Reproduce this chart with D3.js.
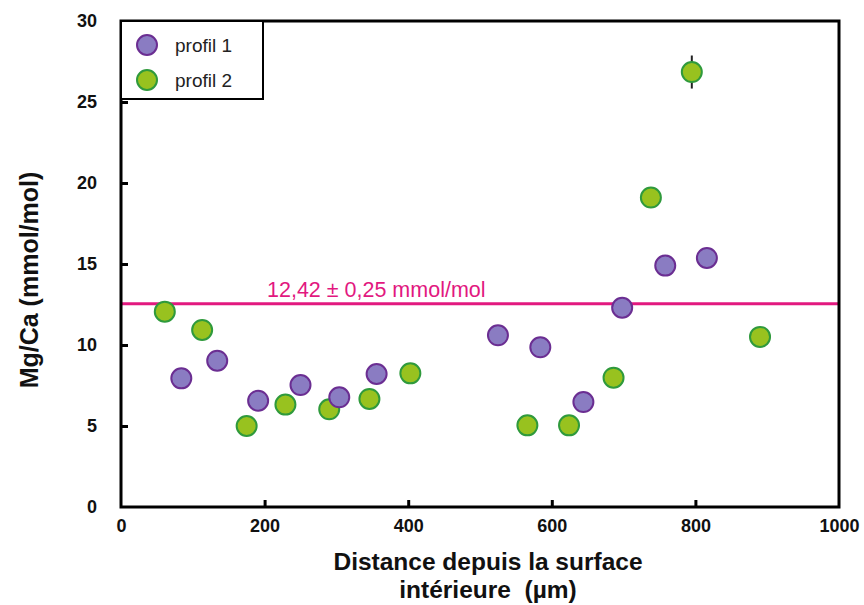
<!DOCTYPE html>
<html><head><meta charset="utf-8">
<script src="https://cdn.jsdelivr.net/npm/d3@7"></script>
<style>body{margin:0;background:#fff;} svg{display:block;font-family:"Liberation Sans",Arial,sans-serif;}</style>
</head><body>
<script>
const profil1X = [84, 134, 191, 250, 304, 356, 525, 584, 644, 698, 758, 816];
const profil1Y = [7.94, 9.03, 6.56, 7.53, 6.77, 8.21, 10.6, 9.86, 6.48, 12.3, 14.9, 15.37];
const profil2X = [61, 113, 175, 229, 290, 346, 403, 566, 624, 686, 738, 795, 890];
const profil2Y = [12.06, 10.93, 5.0, 6.32, 6.03, 6.67, 8.25, 5.04, 5.04, 7.98, 19.1, 26.85, 10.5];
const profil2Err = [0, 0, 0, 0, 0, 0, 0, 0, 0, 0, 0, 1.02, 0];
const meanLine = 12.55;
const meanLabel = "12,42 ± 0,25 mmol/mol";
const xTicks = [0, 200, 400, 600, 800, 1000];
const yTicks = [0, 5, 10, 15, 20, 25, 30];
const seriesNames = ["profil 1", "profil 2"];

const W = 864, H = 605;
const svg = d3.select("body").append("svg").attr("width", W).attr("height", H);
const x = d3.scaleLinear().domain([0, 1000]).range([121, 839]);
const y = d3.scaleLinear().domain([0, 30]).range([507, 21]);

const purple = {fill: "#8a7cc2", stroke: "#6b2e92"};
const green = {fill: "#98c21f", stroke: "#2f9a3c"};

// mean line
svg.append("line").attr("x1", x(0)).attr("x2", x(1000)).attr("y1", y(meanLine)).attr("y2", y(meanLine))
  .attr("stroke", "#e2187f").attr("stroke-width", 3);
svg.append("text").attr("x", 267).attr("y", y(meanLine) - 7).attr("fill", "#e2187f")
  .attr("font-size", 21.5).text(meanLabel);

// error bars
const p2 = profil2X.map((d, i) => ({x: d, y: profil2Y[i], e: profil2Err[i]}));
const p1 = profil1X.map((d, i) => ({x: d, y: profil1Y[i]}));
svg.selectAll(".err").data(p2.filter(d => d.e > 0)).enter().append("line")
  .attr("x1", d => x(d.x)).attr("x2", d => x(d.x))
  .attr("y1", d => y(d.y + d.e)).attr("y2", d => y(d.y - d.e))
  .attr("stroke", "#222").attr("stroke-width", 2);

function dots(data, c) {
  svg.append("g").selectAll("circle").data(data).enter().append("circle")
    .attr("cx", d => x(d.x)).attr("cy", d => y(d.y)).attr("r", 10)
    .attr("fill", c.fill).attr("stroke", c.stroke).attr("stroke-width", 2);
}
dots(p2, green);
dots(p1, purple);

// axes
const xAxis = svg.append("g").attr("transform", `translate(0,${y(0)})`)
  .call(d3.axisBottom(x).tickValues(xTicks).tickSize(-7).tickPadding(12).tickFormat(d3.format("d")));
const yAxis = svg.append("g").attr("transform", `translate(${x(0)},0)`)
  .call(d3.axisLeft(y).tickValues(yTicks).tickSize(-7).tickPadding(24).tickFormat(d3.format("d")));
[xAxis, yAxis].forEach(a => {
  a.select(".domain").remove();
  a.selectAll(".tick line").attr("stroke", "#000").attr("stroke-width", 3);
  a.selectAll(".tick text").attr("font-size", 18).attr("font-weight", "bold").attr("fill", "#111")
    .attr("font-family", "Liberation Sans, Arial, sans-serif");
});
xAxis.selectAll(".tick").filter(d => d === 0 || d === 1000).select("line").remove();
yAxis.selectAll(".tick").filter(d => d === 0 || d === 30).select("line").remove();

// frame
svg.append("rect").attr("x", x(0)).attr("y", y(30)).attr("width", x(1000) - x(0)).attr("height", y(0) - y(30))
  .attr("fill", "none").attr("stroke", "#000").attr("stroke-width", 3);

// legend
const lg = svg.append("g");
lg.append("rect").attr("x", x(0)).attr("y", y(30)).attr("width", 142).attr("height", 78)
  .attr("fill", "#fff").attr("stroke", "#000").attr("stroke-width", 2);
[purple, green].forEach((c, i) => {
  lg.append("circle").attr("cx", 147).attr("cy", 45 + i * 35).attr("r", 10)
    .attr("fill", c.fill).attr("stroke", c.stroke).attr("stroke-width", 2);
  lg.append("text").attr("x", 175).attr("y", 52 + i * 35).attr("font-size", 19).attr("fill", "#222")
    .text(seriesNames[i]);
});

// axis titles
svg.append("text").attr("transform", `translate(38,280) rotate(-90)`)
  .attr("text-anchor", "middle").attr("font-size", 25).attr("font-weight", "bold").attr("fill", "#111")
  .text("Mg/Ca (mmol/mol)");
svg.append("text").attr("x", 488).attr("y", 570).attr("text-anchor", "middle").attr("font-size", 24.5)
  .attr("font-weight", "bold").attr("fill", "#111").text("Distance depuis la surface");
svg.append("text").attr("x", 488).attr("y", 598).attr("text-anchor", "middle").attr("font-size", 24.5)
  .attr("font-weight", "bold").attr("fill", "#111").style("white-space", "pre").text("intérieure  (µm)");
</script>
</body></html>
